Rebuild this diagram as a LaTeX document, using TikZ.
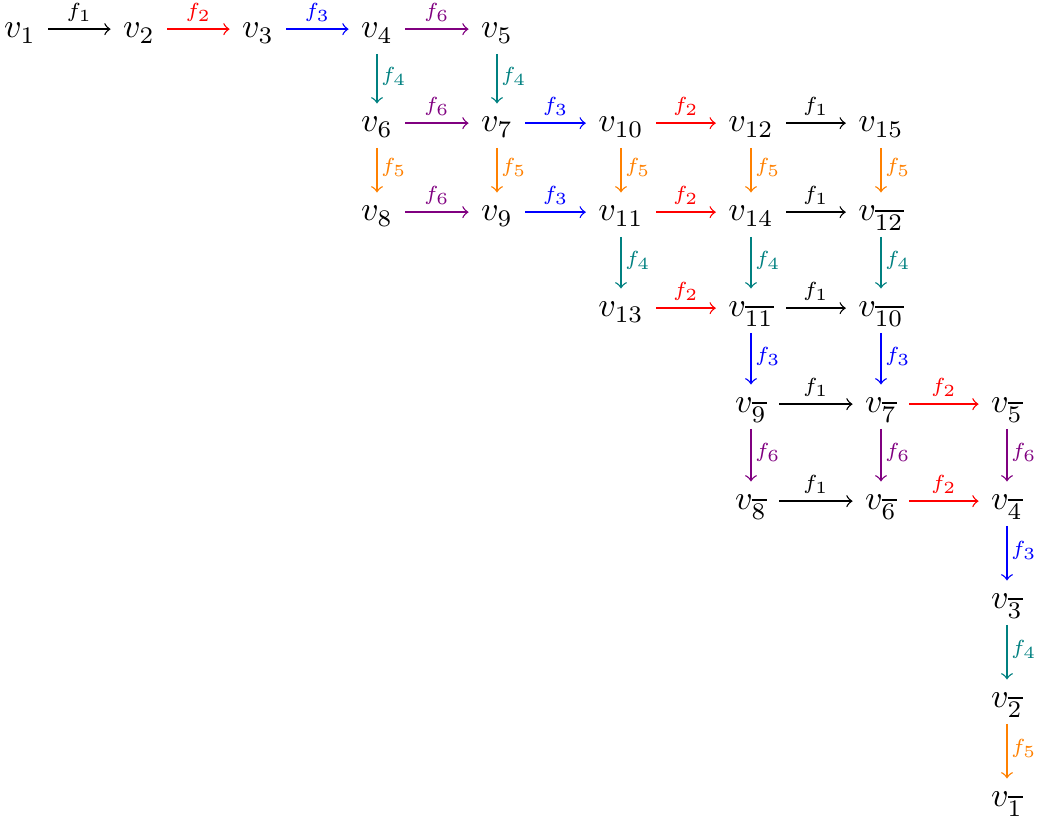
\documentclass[tikz,border=0pt]{standalone}
\usepackage{amsmath,amssymb}
\usepackage{tikz}
\usetikzlibrary{arrows,calc,positioning}

\newcommand{\vb}[1]{v_{\overline{#1}}}

\begin{document}
\begin{tikzpicture}[x = 0.294pt, y = -0.294pt,
	vtx/.style = {anchor = base, text height = 6pt, text depth = 0.8pt,
		inner xsep = 3.5pt, inner ysep = 2.2pt},
	lbl/.style = {font = \fontsize{6.5}{7}\selectfont, inner xsep = 1pt, inner ysep = 2pt},
	hor/.style = {->},
	ver/.style = {->, shorten <= 1.5pt}]
	\useasboundingbox (0,0) rectangle (1037,820);
	
	% row 1
	\node[vtx] (v1) at (20, 38) {$v_1$};
	\node[vtx] (v2) at (139, 38) {$v_2$};
	\node[vtx] (v3) at (258, 38) {$v_3$};
	\node[vtx] (v4) at (377, 38) {$v_4$};
	\node[vtx] (v5) at (497, 38) {$v_5$};
	
	% row 2
	\node[vtx] (v6) at (377, 132) {$v_6$};
	\node[vtx] (v7) at (497, 132) {$v_7$};
	\node[vtx] (v10) at (621, 132) {$v_{10}$};
	\node[vtx] (v12) at (751, 132) {$v_{12}$};
	\node[vtx] (v15) at (881, 132) {$v_{15}$};
	
	% row 3
	\node[vtx] (v8) at (377, 221) {$v_8$};
	\node[vtx] (v9) at (497, 221) {$v_9$};
	\node[vtx] (v11) at (621, 221) {$v_{11}$};
	\node[vtx] (v14) at (751, 221) {$v_{14}$};
	\node[vtx] (b12) at (881, 221) {$\vb{12}$};
	
	% row 4
	\node[vtx] (v13) at (621, 317) {$v_{13}$};
	\node[vtx] (b11) at (751, 317) {$\vb{11}$};
	\node[vtx] (b10) at (881, 317) {$\vb{10}$};
	
	% row 5
	\node[vtx] (b9) at (751, 413) {$\vb{9}$};
	\node[vtx] (b7) at (881, 413) {$\vb{7}$};
	\node[vtx] (b5) at (1007, 413) {$\vb{5}$};
	
	% row 6
	\node[vtx] (b8) at (751, 510) {$\vb{8}$};
	\node[vtx] (b6) at (881, 510) {$\vb{6}$};
	\node[vtx] (b4) at (1007, 510) {$\vb{4}$};
	
	% last column
	\node[vtx] (b3) at (1007, 609) {$\vb{3}$};
	\node[vtx] (b2) at (1007, 708) {$\vb{2}$};
	\node[vtx] (b1) at (1007, 807) {$\vb{1}$};
	
	% horizontal maps
	\draw[hor] (v1) -- node[lbl, above] {$f_1$} (v2);
	\draw[hor, red] (v2) -- node[lbl, above] {$f_2$} (v3);
	\draw[hor, blue] (v3) -- node[lbl, above] {$f_3$} (v4);
	\draw[hor, violet] (v4) -- node[lbl, above] {$f_6$} (v5);
	
	\draw[hor, violet] (v6) -- node[lbl, above] {$f_6$} (v7);
	\draw[hor, blue] (v7) -- node[lbl, above] {$f_3$} (v10);
	\draw[hor, red] (v10) -- node[lbl, above] {$f_2$} (v12);
	\draw[hor] (v12) -- node[lbl, above] {$f_1$} (v15);
	
	\draw[hor, violet] (v8) -- node[lbl, above] {$f_6$} (v9);
	\draw[hor, blue] (v9) -- node[lbl, above] {$f_3$} (v11);
	\draw[hor, red] (v11) -- node[lbl, above] {$f_2$} (v14);
	\draw[hor] (v14) -- node[lbl, above] {$f_1$} (b12);
	
	\draw[hor, red] (v13) -- node[lbl, above] {$f_2$} (b11);
	\draw[hor] (b11) -- node[lbl, above] {$f_1$} (b10);
	
	\draw[hor] (b9) -- node[lbl, above] {$f_1$} (b7);
	\draw[hor, red] (b7) -- node[lbl, above] {$f_2$} (b5);
	
	\draw[hor] (b8) -- node[lbl, above] {$f_1$} (b6);
	\draw[hor, red] (b6) -- node[lbl, above] {$f_2$} (b4);
	
	% vertical maps
	\draw[ver, teal] (v4) -- node[lbl, right] {$f_4$} (v6);
	\draw[ver, teal] (v5) -- node[lbl, right] {$f_4$} (v7);
	
	\draw[ver, orange] (v6) -- node[lbl, right] {$f_5$} (v8);
	\draw[ver, orange] (v7) -- node[lbl, right] {$f_5$} (v9);
	\draw[ver, orange] (v10) -- node[lbl, right] {$f_5$} (v11);
	\draw[ver, orange] (v12) -- node[lbl, right] {$f_5$} (v14);
	\draw[ver, orange] (v15) -- node[lbl, right] {$f_5$} (b12);
	
	\draw[ver, teal] (v11) -- node[lbl, right] {$f_4$} (v13);
	\draw[ver, teal] (v14) -- node[lbl, right] {$f_4$} (b11);
	\draw[ver, teal] (b12) -- node[lbl, right] {$f_4$} (b10);
	
	\draw[ver, blue] (b11) -- node[lbl, right] {$f_3$} (b9);
	\draw[ver, blue] (b10) -- node[lbl, right] {$f_3$} (b7);
	
	\draw[ver, violet] (b9) -- node[lbl, right] {$f_6$} (b8);
	\draw[ver, violet] (b7) -- node[lbl, right] {$f_6$} (b6);
	\draw[ver, violet] (b5) -- node[lbl, right] {$f_6$} (b4);
	
	\draw[ver, blue] (b4) -- node[lbl, right] {$f_3$} (b3);
	\draw[ver, teal] (b3) -- node[lbl, right] {$f_4$} (b2);
	\draw[ver, orange] (b2) -- node[lbl, right] {$f_5$} (b1);
	
\end{tikzpicture}
\end{document}
